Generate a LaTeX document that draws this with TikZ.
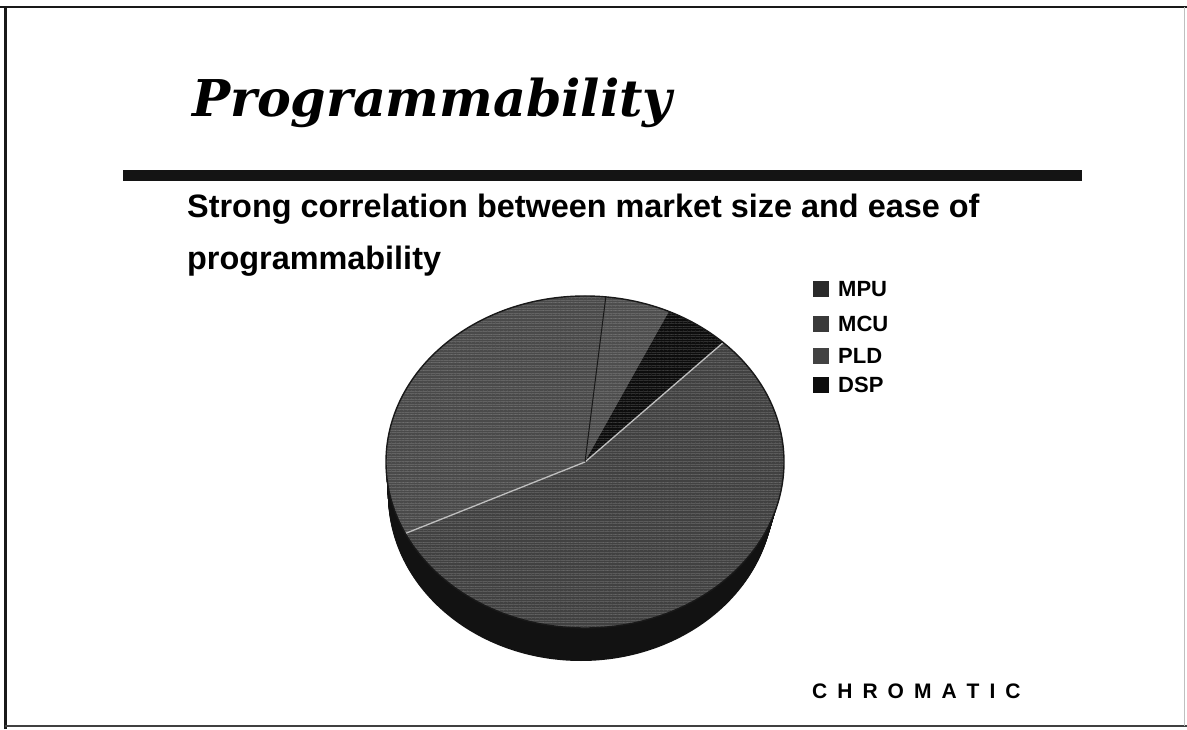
\documentclass[tikz,border=0pt]{standalone}
\usepackage{fontspec}
\newfontfamily\helv{Liberation Sans}
\newfontfamily\headfont{DejaVu Serif}
\usetikzlibrary{patterns.meta}

\definecolor{mpufill}{HTML}{4A4A4A}
\definecolor{mcufill}{HTML}{4E4E4E}
\definecolor{pldfill}{HTML}{414141}
\definecolor{dspfill}{HTML}{0D0D0D}
\definecolor{sidefill}{HTML}{121212}
\definecolor{mpukey}{HTML}{2A2A2A}
\definecolor{mcukey}{HTML}{3A3A3A}
\definecolor{pldkey}{HTML}{424242}

\tikzset{
  frameline/.style={draw=black!90, line cap=butt},
  bodytext/.style={anchor=base west, inner sep=0pt,
    font=\helv\bfseries\fontsize{32.4}{38}\selectfont},
  keytext/.style={anchor=base west, inner sep=0pt,
    font=\helv\bfseries\fontsize{22}{25}\selectfont},
  brandtext/.style={anchor=base west, inner sep=0pt,
    font=\helv\bfseries\fontsize{21}{24}\selectfont},
  keybox/.style={minimum size=16pt, inner sep=0pt, draw=none},
  rimline/.style={draw=black!90, line width=1.4pt},
  liteedge/.style={draw=black!25, line width=1.3pt},
  darkedge/.style={draw=black!90, line width=1.0pt},
}

\begin{document}
\begin{tikzpicture}[x=1pt,y=1pt]
\useasboundingbox (0,0) rectangle (1187,729);
\fill[white] (0,0) rectangle (1187,729);

% slide frame
\draw[frameline, line width=2.6pt] (0,722) -- (1187,722);
\draw[frameline, line width=3pt] (5,0) -- (5,722);
\draw[draw=black!75, line width=2pt] (5,3) -- (1187,3);
\draw[draw=black!25, line width=1pt] (1184,3) -- (1184,722);

% heading and rule
\node[anchor=base west, inner sep=0pt] (title) at (192,612)
  {\resizebox{480pt}{!}{\headfont\bfseries\itshape Programmability}};
\fill[black!92] (123,548) rectangle (1082,559);

% statement
\node[bodytext] (line1) at (187,511) {Strong correlation between market size and ease of};
\node[bodytext] (line2) at (187,459) {programmability};

% pie: side wall, swept from the top face down to the narrower base
\coordinate (pc) at (585,267);
\foreach \k in {0,...,24}
  \fill[sidefill] ({585-4*\k/24},{267-33*\k/24})
    ellipse [x radius={199-6*\k/24}, y radius=166];

% pie: slices
\fill[mpufill] (pc) -- ++(84:199 and 166)
  arc[start angle=84, end angle=205.5, x radius=199, y radius=166] -- cycle;
\fill[mcufill] (pc) -- ++(65:199 and 166)
  arc[start angle=65, end angle=84, x radius=199, y radius=166] -- cycle;
\fill[dspfill] (pc) -- ++(46:199 and 166)
  arc[start angle=46, end angle=65, x radius=199, y radius=166] -- cycle;
\fill[pldfill] (pc) -- ++(205.5:199 and 166)
  arc[start angle=205.5, end angle=406, x radius=199, y radius=166] -- cycle;

% halftone grain on the top face
\fill[pattern={Lines[angle=0, distance=2.6pt, line width=0.5pt]}, pattern color=white, opacity=0.14]
  (pc) ellipse [x radius=199, y radius=166];
\fill[pattern={Dots[distance=4pt, radius=0.5pt]}, pattern color=white, opacity=0.12]
  (pc) ellipse [x radius=199, y radius=166];

% slice edges and rim
\draw[liteedge] (pc) -- ++(205.5:199 and 166);
\draw[liteedge] (pc) -- ++(46:199 and 166);
\draw[darkedge] (pc) -- ++(84:199 and 166);
\draw[rimline] (pc) ellipse [x radius=199, y radius=166];

% legend
\node[keybox, fill=mpukey] (kmpu) at (821,440) {};
\node[keybox, fill=mcukey] (kmcu) at (821,405) {};
\node[keybox, fill=pldkey] (kpld) at (821,373) {};
\node[keybox, fill=dspfill] (kdsp) at (821,344) {};
\node[keytext] (tmpu) at (838,432) {MPU};
\node[keytext] (tmcu) at (838,397) {MCU};
\node[keytext] (tpld) at (838,365) {PLD};
\node[keytext] (tdsp) at (838,336) {DSP};

% company mark
\node[brandtext] (brand) at (812,31)
  {C\kern10ptH\kern10ptR\kern10ptO\kern10ptM\kern10ptA\kern10ptT\kern10ptI\kern10ptC};
\end{tikzpicture}
\end{document}
